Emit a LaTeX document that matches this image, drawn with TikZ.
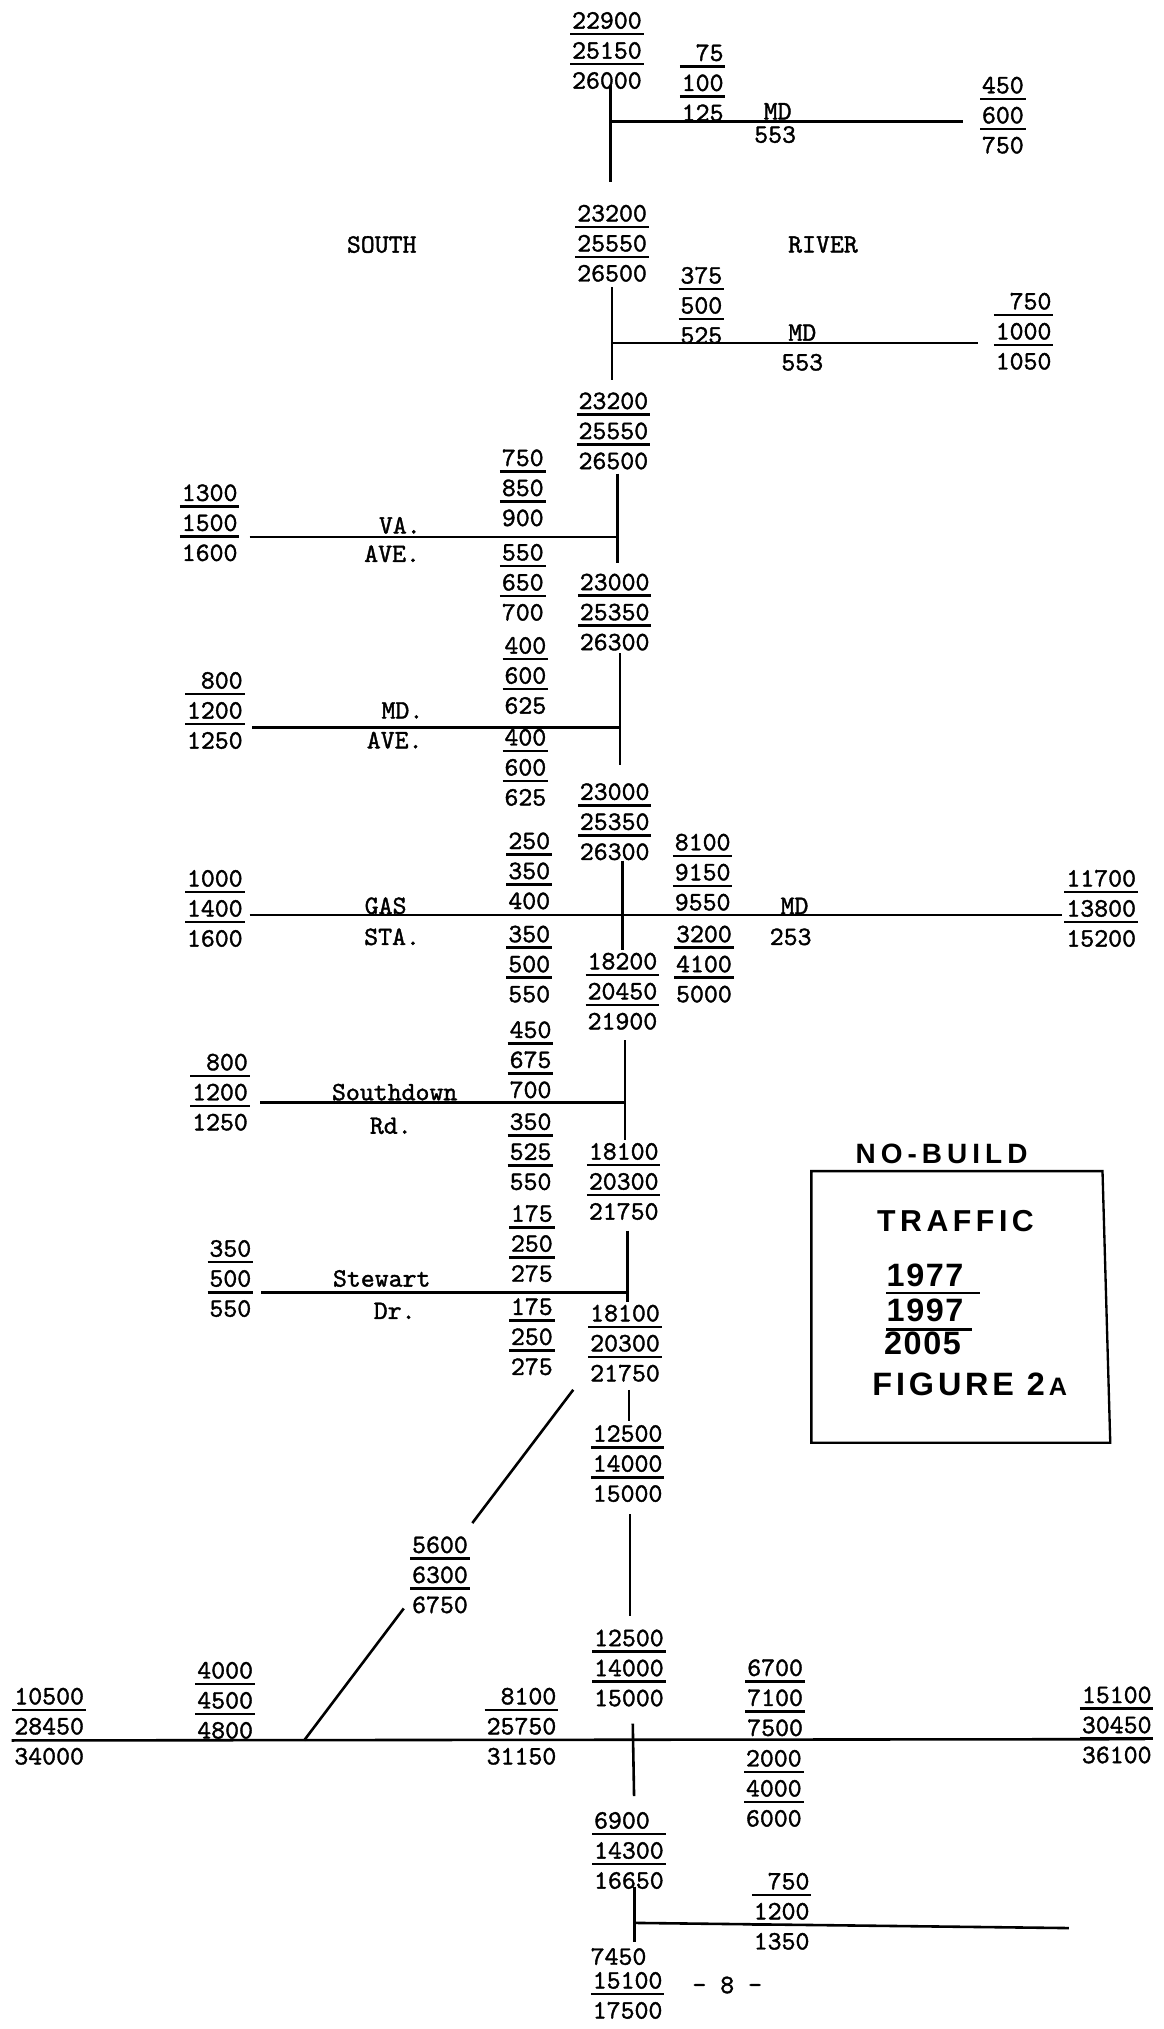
\documentclass[tikz,border=0pt]{standalone}
\usepackage{fontspec}
\newfontfamily\tw{lmmono10-regular.otf}[FakeBold=1.4]
\newfontfamily\bxa{Liberation Sans}[LetterSpace=18]
\newfontfamily\bxb{Liberation Sans}[LetterSpace=15]
\newfontfamily\bxc{Liberation Sans}[LetterSpace=12]
\newfontfamily\bxd{Liberation Sans}[LetterSpace=5]
\setlength{\arrayrulewidth}{2pt}
\newcommand{\stkstrut}{\rule[-3.3pt]{0pt}{21.2pt}}
\newcommand{\stk}[4][r]{\begin{tabular}{@{\hspace{1.5pt}}#1@{\hspace{1.5pt}}}\stkstrut#2\\\hline\stkstrut#3\\\hline\stkstrut#4\end{tabular}}
\newcommand{\stktwo}[2]{\begin{tabular}{@{\hspace{1.5pt}}r@{\hspace{1.5pt}}}\stkstrut#1\\\hline\stkstrut#2\end{tabular}}
\tikzset{
  road/.style={line width=2pt},
  stack/.style={inner sep=0pt, font=\tw\fontsize{20.5}{1}\selectfont},
  lbl/.style={inner sep=0pt, font=\tw\fontsize{20.5}{22}\selectfont},
  boxline/.style={line width=1.8pt},
  bxtext/.style={anchor=west, inner sep=0pt},
}
\begin{document}
\begin{tikzpicture}[x=1pt,y=-1pt]
\useasboundingbox (0,0) rectangle (899,1568);
% road coordinates
\coordinate (r1a) at (472,66);  \coordinate (r1b) at (472,141);
\coordinate (j1) at (472,94);   \coordinate (e1) at (744,94);
\coordinate (r2a) at (473,222); \coordinate (r2b) at (473,294);
\coordinate (j2) at (473,265);  \coordinate (e2) at (756,265);
\coordinate (r3a) at (477,366); \coordinate (r3b) at (477,435);
\coordinate (j3) at (477,415);  \coordinate (w3) at (193,415);
\coordinate (r4a) at (479,505); \coordinate (r4b) at (479,591);
\coordinate (j4) at (479,562);  \coordinate (w4) at (195,562);
\coordinate (r5a) at (481,665); \coordinate (r5b) at (481,734);
\coordinate (w5) at (193,707);  \coordinate (e5) at (821,707);
\coordinate (r6a) at (483,804); \coordinate (r6b) at (483,881);
\coordinate (j6) at (483,852);  \coordinate (w6) at (201,852);
\coordinate (r7a) at (485,951); \coordinate (r7b) at (485,1006);
\coordinate (j7) at (485,999);  \coordinate (w7) at (202,999);
\coordinate (r8a) at (486,1074); \coordinate (r8b) at (486,1098);
\coordinate (d1a) at (443,1074); \coordinate (d1b) at (365,1177);
\coordinate (r9a) at (487,1170); \coordinate (r9b) at (487,1249);
\coordinate (d2a) at (312,1243); \coordinate (d2b) at (235,1345);
\coordinate (r10a) at (489,1332); \coordinate (r10b) at (490,1388);
\coordinate (m1) at (9,1345);    \coordinate (m2) at (885,1344);
\coordinate (r11a) at (490.5,1458); \coordinate (r11b) at (490.5,1501);
\coordinate (j11) at (490.5,1486); \coordinate (e11) at (826,1490);
% roads
\draw[road] (r1a) -- (r1b);  \draw[road] (j1) -- (e1);
\draw[road] (r2a) -- (r2b);  \draw[road] (j2) -- (e2);
\draw[road] (r3a) -- (r3b);  \draw[road] (w3) -- (j3);
\draw[road] (r4a) -- (r4b);  \draw[road] (w4) -- (j4);
\draw[road] (r5a) -- (r5b);  \draw[road] (w5) -- (e5);
\draw[road] (r6a) -- (r6b);  \draw[road] (w6) -- (j6);
\draw[road] (r7a) -- (r7b);  \draw[road] (w7) -- (j7);
\draw[road] (r8a) -- (r8b);  \draw[road] (d1a) -- (d1b);
\draw[road] (r9a) -- (r9b);  \draw[road] (d2a) -- (d2b);
\draw[road] (r10a) -- (r10b); \draw[road] (m1) -- (m2);
\draw[road] (r11a) -- (r11b); \draw[road] (j11) -- (e11);
% stacks
\node[stack] (S1) at (469,38) {\stk{22900}{25150}{26000}};
\node[stack] (S2) at (543,63) {\stk{75}{100}{125}};
\node[stack] (S3) at (775,88) {\stk{450}{600}{750}};
\node[stack] (S4) at (473,187) {\stk{23200}{25550}{26500}};
\node[stack] (S5) at (542,235) {\stk{375}{500}{525}};
\node[stack] (S6) at (791,255) {\stk{750}{1000}{1050}};
\node[stack] (S7) at (474,332) {\stk{23200}{25550}{26500}};
\node[stack] (S8) at (404,376) {\stk{750}{850}{900}};
\node[stack] (S9) at (404,449) {\stk{550}{650}{700}};
\node[stack] (S10) at (162,403) {\stk{1300}{1500}{1600}};
\node[stack] (S11) at (475,472) {\stk{23000}{25350}{26300}};
\node[stack] (S12) at (406,521) {\stk{400}{600}{625}};
\node[stack] (S13) at (406,592) {\stk{400}{600}{625}};
\node[stack] (S14) at (166,548) {\stk{800}{1200}{1250}};
\node[stack] (S15) at (475,634) {\stk{23000}{25350}{26300}};
\node[stack] (S16) at (409,672) {\stk{250}{350}{400}};
\node[stack] (S17) at (409,744) {\stk{350}{500}{550}};
\node[stack] (S18) at (166,701) {\stk{1000}{1400}{1600}};
\node[stack] (S19) at (543,673) {\stk{8100}{9150}{9550}};
\node[stack] (S20) at (544,744) {\stk{3200}{4100}{5000}};
\node[stack] (S21) at (851,701) {\stk{11700}{13800}{15200}};
\node[stack] (S22) at (481,765) {\stk{18200}{20450}{21900}};
\node[stack] (S23) at (410,818) {\stk{450}{675}{700}};
\node[stack] (S24) at (410,889) {\stk{350}{525}{550}};
\node[stack] (S25) at (170,843) {\stk{800}{1200}{1250}};
\node[stack] (S26) at (482,912) {\stk{18100}{20300}{21750}};
\node[stack] (S27) at (411,960) {\stk{175}{250}{275}};
\node[stack] (S28) at (411,1032) {\stk{175}{250}{275}};
\node[stack] (S29) at (178,987) {\stk{350}{500}{550}};
\node[stack] (S30) at (483,1037) {\stk{18100}{20300}{21750}};
\node[stack] (S31) at (485,1130) {\stk{12500}{14000}{15000}};
\node[stack] (S32) at (340,1216) {\stk{5600}{6300}{6750}};
\node[stack] (S33) at (486,1288) {\stk{12500}{14000}{15000}};
\node[stack] (S34) at (38,1333) {\stk{10500}{28450}{34000}};
\node[stack] (S35) at (174,1313) {\stk{4000}{4500}{4800}};
\node[stack] (S36) at (403,1333) {\stk{8100}{25750}{31150}};
\node[stack] (S37) at (599,1311) {\stk{6700}{7100}{7500}};
\node[stack] (S38) at (598,1381) {\stk{2000}{4000}{6000}};
\node[stack] (S39) at (863,1332) {\stk{15100}{30450}{36100}};
\node[stack] (S40) at (486,1429) {\stk[l]{6900}{14300}{16650}};
\node[stack] (S41) at (604,1476) {\stk{750}{1200}{1350}};
\node[stack] (S42) at (485,1541) {\stktwo{15100}{17500}};
\node[lbl] (n7450) at (478,1512) {7450};
% labels
\node[lbl] (md1) at (601,86) {MD};
\node[lbl] (n553a) at (599,104) {553};
\node[lbl] (south) at (295,189) {SOUTH};
\node[lbl] (river) at (636,189) {RIVER};
\node[lbl] (md2) at (620,257) {MD};
\node[lbl] (n553b) at (620,280) {553};
\node[lbl] (va) at (309,406) {VA.};
\node[lbl] (ave1) at (303,428) {AVE.};
\node[lbl] (mdave) at (311,549) {MD.};
\node[lbl] (ave2) at (305,572) {AVE.};
\node[lbl] (gas) at (298,700) {GAS};
\node[lbl] (sta) at (303,724) {STA.};
\node[lbl] (md3) at (614,700) {MD};
\node[lbl] (n253) at (611,724) {253};
\node[lbl] (sd) at (305,844) {Southdown};
\node[lbl] (rd) at (302,870) {Rd.};
\node[lbl] (stew) at (295,988) {Stewart};
\node[lbl] (dr) at (305,1013) {Dr.};
\node[lbl] (pg) at (562,1534) {- 8 -};
% legend box
\coordinate (b1) at (627,905); \coordinate (b2) at (852,905);
\coordinate (b3) at (858,1115); \coordinate (b4) at (627,1115);
\draw[boxline] (b1) -- (b2) -- (b3) -- (b4) -- cycle;
\node[bxtext, font=\bxa\bfseries\fontsize{21.6}{24}\selectfont] (nb) at (661,891.5) {NO-BUILD};
\node[bxtext, font=\bxb\bfseries\fontsize{23.4}{26}\selectfont] (tr) at (677.6,943.7) {TRAFFIC};
\node[bxtext, font=\bxd\bfseries\fontsize{25}{28}\selectfont] (y1) at (685,985.6) {1977};
\node[bxtext, font=\bxd\bfseries\fontsize{25}{28}\selectfont] (y2) at (685,1013) {1997};
\node[bxtext, font=\bxd\bfseries\fontsize{25}{28}\selectfont] (y3) at (683,1038) {2005};
\node[bxtext, font=\bxc\bfseries\fontsize{25}{28}\selectfont] (fig) at (674,1070) {FIGURE 2\hspace{3pt}{\fontsize{19.5}{22}\selectfont A}};
\coordinate (u1a) at (685,999.2); \coordinate (u1b) at (757.5,999.2);
\coordinate (u2a) at (685,1027.3); \coordinate (u2b) at (751,1027.3);
\draw[boxline] (u1a) -- (u1b);
\draw[boxline] (u2a) -- (u2b);
\end{tikzpicture}
\end{document}
